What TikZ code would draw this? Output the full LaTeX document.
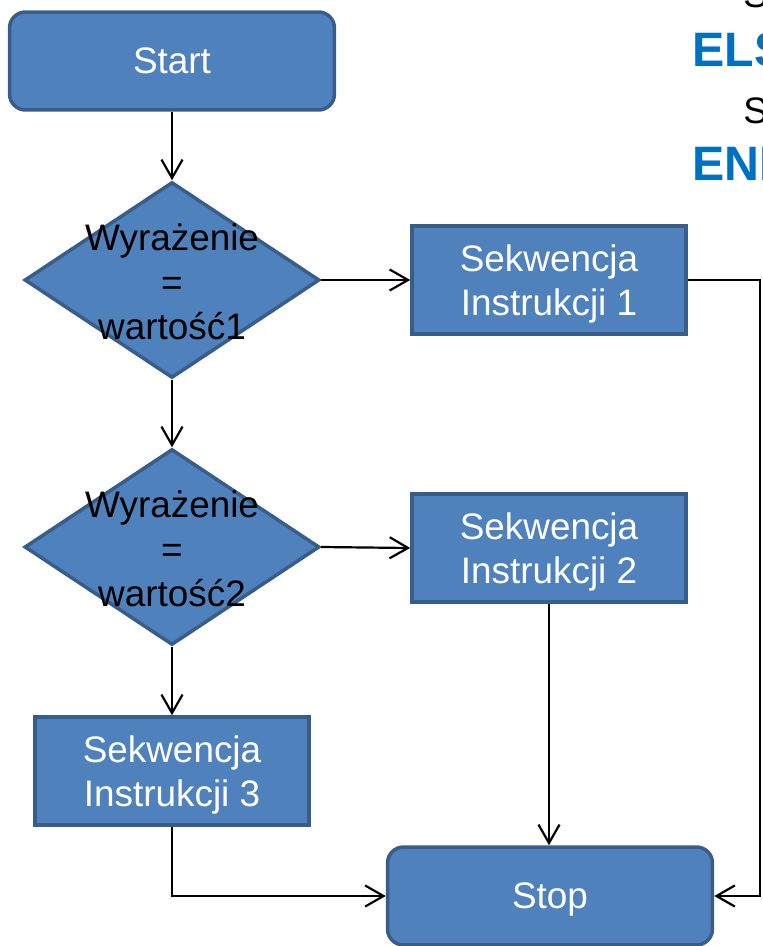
\documentclass[tikz,border=0pt]{standalone}
\usepackage{fontspec}
\setmainfont{Liberation Sans}
\usetikzlibrary{shapes.geometric,arrows.meta}
\definecolor{boxfill}{HTML}{4F81BD}
\definecolor{boxline}{HTML}{385D8A}
\definecolor{kwblue}{HTML}{0070C0}
\tikzset{
  blk/.style={draw=boxline, fill=boxfill, line width=2pt, inner sep=0pt,
    text=white, align=center, text depth=0pt, font=\fontsize{21}{25}\selectfont},
  termbox/.style={blk, rounded corners=0.32cm, minimum width=6.5cm, minimum height=1.96cm},
  procbox/.style={blk, minimum width=5.48cm, minimum height=2.16cm},
  decbox/.style={diamond, draw=boxline, fill=boxfill, line width=2pt, inner sep=0pt,
    minimum width=5.9cm, minimum height=3.92cm},
  dectext/.style={align=center, text=black, inner sep=0pt, font=\fontsize{21}{25.5}\selectfont},
  arr/.style={-{Straight Barb[length=10.5pt,width=12pt]}, line width=1.25pt, black},
  kw/.style={anchor=base west, inner sep=0pt, text=kwblue, font=\fontsize{27.5}{30}\selectfont\bfseries},
  code/.style={anchor=base west, inner sep=0pt, text=black, font=\fontsize{21}{24}\selectfont}
}
\begin{document}
\begin{tikzpicture}[x=0.02cm, y=-0.02cm]
\useasboundingbox (0,0) rectangle (762,946);
\clip (0,0) rectangle (762,946);

% listing fragment running off the right edge
\node[code] (c1) at (743,8) {Sekwencja};
\node[kw]   (c2) at (692,67) {ELSE};
\node[code] (c3) at (743,123) {Sekwencja};
\node[kw]   (c4) at (692,180) {END};

% flowchart blocks
\node[termbox] (start) at (172,61) {Start};
\node[decbox]  (d1) at (172,280) {};
\node[dectext] (t1) at (172,282) {Wyrażenie\\=\\wartość1};
\node[procbox] (b1) at (549,280) {Sekwencja\\Instrukcji 1};
\node[decbox]  (d2) at (172,547) {};
\node[dectext] (t2) at (172,549) {Wyrażenie\\=\\wartość2};
\node[procbox] (b2) at (549,548) {Sekwencja\\Instrukcji 2};
\node[procbox] (b3) at (172,771) {Sekwencja\\Instrukcji 3};
\node[termbox] (stop) at (550,896) {Stop};

\coordinate (rt) at (760,280);

% connectors
\draw[arr] (start) -- (d1);
\draw[arr] (d1.east) -- (b1.west);
\draw[arr] (d1) -- (d2);
\draw[arr] (d2.east) -- (b2.west);
\draw[arr] (d2) -- (b3);
\draw[arr] (b1.east) -- (rt) |- (stop.east);
\draw[arr] (b2.south) -- (b2.south |- stop.north);
\draw[arr] (b3.south) |- (stop.west);
\end{tikzpicture}
\end{document}
